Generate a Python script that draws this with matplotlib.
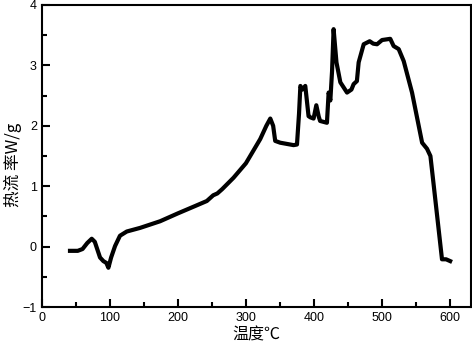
import matplotlib
matplotlib.use("Agg")
import matplotlib.pyplot as plt
from matplotlib.ticker import MultipleLocator

temperature = [41.6, 53, 60, 67, 73.5, 78, 85.7, 90.6, 95, 98, 102, 107.8, 115, 125, 144.6,
               174, 200, 225, 242.6, 252, 258, 265, 281.8, 300, 321, 330, 335.8, 340, 343,
               350.4, 370, 375, 378, 380, 383, 387.2, 392, 394.6, 399.4, 403.4, 407, 409,
               419, 421.5, 424, 426.5, 428.8, 433, 438.7, 448.5, 455, 458.2, 463, 465.6,
               473, 481.8, 487, 492.6, 500, 506, 512, 517, 524.4, 531.8, 544, 558.8, 566,
               571, 576, 588, 594, 600]
heat_flow = [-0.07, -0.07, -0.04, 0.06, 0.13, 0.08, -0.18, -0.24, -0.27, -0.35, -0.18, 0.01,
             0.18, 0.25, 0.31, 0.42, 0.55, 0.67, 0.755, 0.85, 0.88, 0.95, 1.14, 1.38, 1.78,
             2.0, 2.12, 2.0, 1.75, 1.72, 1.68, 1.69, 2.2, 2.66, 2.6, 2.66, 2.16, 2.14, 2.12,
             2.34, 2.15, 2.08, 2.05, 2.55, 2.42, 2.9, 3.6, 3.05, 2.72, 2.55, 2.6, 2.69, 2.74,
             3.05, 3.35, 3.40, 3.36, 3.35, 3.42, 3.43, 3.44, 3.32, 3.27, 3.07, 2.55, 1.72,
             1.62, 1.50, 1.0, -0.21, -0.21, -0.24]

x_ticks = [0, 100, 200, 300, 400, 500, 600]
y_ticks = [-1, 0, 1, 2, 3, 4]

fig = plt.figure(figsize=(4.72, 3.49), dpi=100)
ax = fig.add_axes([0.0883, 0.1203, 0.9087, 0.8654])
ax.plot(temperature, heat_flow, color="black", lw=3, solid_joinstyle="round")
ax.set_xlim(0, 630)
ax.set_ylim(-1, 4)
ax.set_xticks(x_ticks)
ax.set_yticks(y_ticks)
ax.xaxis.set_minor_locator(MultipleLocator(50))
ax.yaxis.set_minor_locator(MultipleLocator(0.5))
ax.tick_params(which="both", direction="in", top=False, right=False, width=1.5,
               labelsize=9)
ax.tick_params(which="major", length=6)
ax.tick_params(which="minor", length=3.5)
for lab in ax.get_xticklabels() + ax.get_yticklabels():
    lab.set_family("Liberation Sans")
for s in ax.spines.values():
    s.set_linewidth(1.5)
cjk = ["Noto Sans CJK SC", "DejaVu Sans"]
ax.set_xlabel("温度℃", family=cjk, fontsize=11.5, labelpad=2)
ax.set_ylabel("热流 率W/g", family=cjk, fontsize=12)
ax.yaxis.set_label_coords(-0.046, 0.47)
fig.savefig("out.png", dpi=100)
